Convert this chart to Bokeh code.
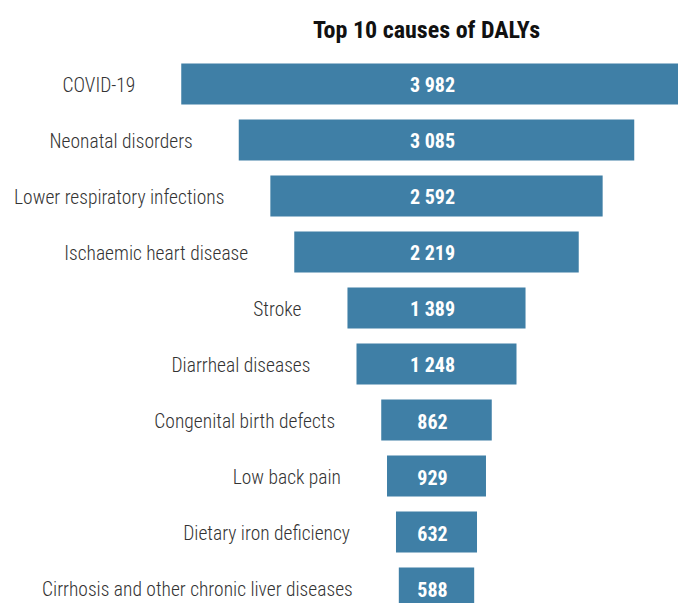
from bokeh.plotting import figure
from bokeh.models import ColumnDataSource, Range1d, Label
from bokeh.core.properties import value
from bokeh.embed import file_html
from bokeh.resources import INLINE

# ---- data ----
causes = [
    "COVID-19",
    "Neonatal disorders",
    "Lower respiratory infections",
    "Ischaemic heart disease",
    "Stroke",
    "Diarrheal diseases",
    "Congenital birth defects",
    "Low back pain",
    "Dietary iron deficiency",
    "Cirrhosis and other chronic liver diseases",
]
dalys = [3982, 3085, 2592, 2219, 1389, 1248, 862, 929, 632, 588]
# bar lengths as drawn in the picture (the "Low back pain" bar is drawn shorter than its label)
bar_len = [3982, 3085, 2592, 2219, 1389, 1248, 862, 772, 632, 588]
title_text = "Top 10 causes of DALYs"

W, H = 678, 603
px_per_unit = 0.1282
center_px = 436
row_pitch = 56.0
first_row_px = 83.5

rows = list(range(len(causes)))
src = ColumnDataSource(dict(
    y=rows,
    cause=causes,
    left=[-b / 2 for b in bar_len],
    right=[b / 2 for b in bar_len],
    lab=[f"{v:,}".replace(",", " ") for v in dalys],
    zero=[0] * len(causes),
))

x0 = -center_px / px_per_unit
x1 = (W - center_px) / px_per_unit
y_top = -first_row_px / row_pitch
y_bot = (H - first_row_px) / row_pitch

p = figure(width=W, height=H, output_backend="svg", toolbar_location=None,
           x_range=Range1d(x0, x1), y_range=Range1d(y_bot, y_top),
           min_border=0, outline_line_color=None)
p.axis.visible = False
p.grid.visible = False
p.background_fill_color = "white"
p.border_fill_color = "white"

p.hbar(y="y", left="left", right="right", height=41 / row_pitch, source=src,
       fill_color="#3f7fa6", line_color=None)

light = "'Roboto Condensed Light', 'Roboto Condensed', 'DejaVu Sans Condensed', sans-serif"
bold = "'Roboto Condensed', 'DejaVu Sans Condensed', Roboto, sans-serif"
p.text(x="left", y="y", text="cause", source=src, x_offset=-46, y_offset=1,
       text_align="right", text_baseline="middle",
       text_font=value(light), text_font_size="19.5px", text_color="#333333")
p.text(x="zero", y="y", text="lab", source=src, x_offset=-4, y_offset=1,
       text_align="center", text_baseline="middle",
       text_font=value(bold), text_font_size="20px", text_font_style="bold",
       text_color="white")

p.add_layout(Label(x=426, y=H - 29, x_units="screen", y_units="screen",
                   text=title_text, text_align="center", text_baseline="middle",
                   text_font=bold, text_font_size="24px", text_font_style="bold",
                   text_color="#111111"))

open("out.html", "w").write(file_html(p, INLINE))
